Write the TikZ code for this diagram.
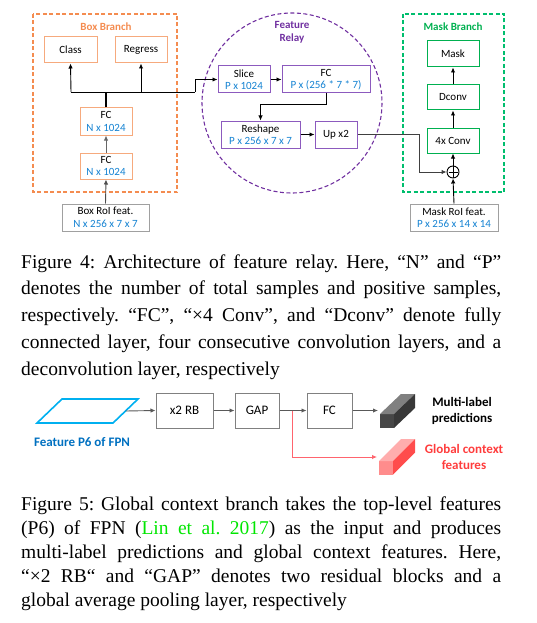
\documentclass[tikz,border=0pt]{standalone}
\usepackage{fontspec}
\setmainfont{Liberation Serif}
\newfontfamily\diag{Carlito}
\usetikzlibrary{arrows.meta,calc}
\frenchspacing
\definecolor{orgtxt}{RGB}{244,140,80}
\definecolor{orgbox}{RGB}{246,170,125}
\definecolor{dimblue}{RGB}{20,130,210}
\definecolor{purp}{RGB}{112,48,160}
\definecolor{purpbox}{RGB}{140,90,190}
\definecolor{grn}{RGB}{0,176,80}
\definecolor{grnframe}{RGB}{0,190,110}
\definecolor{roigray}{RGB}{160,160,160}
\definecolor{boxgray}{RGB}{128,128,128}
\definecolor{cyanp}{RGB}{0,176,240}
\definecolor{p6blue}{RGB}{0,112,192}
\definecolor{redtxt}{RGB}{255,60,60}
\definecolor{redline}{RGB}{255,100,110}
\definecolor{citegreen}{RGB}{0,230,0}
\tikzset{
  bx/.style={draw, line width=1pt, inner sep=0pt, align=center,
    font=\diag\fontsize{11}{12.5}\selectfont},
  obox/.style={bx, draw=orgbox},
  pbox/.style={bx, draw=purpbox},
  gbox/.style={bx, draw=grn},
  rbox/.style={bx, draw=roigray},
  bbox/.style={draw=boxgray, line width=1pt, inner sep=0pt, align=center,
    font=\diag\fontsize{13}{15}\selectfont},
  arr/.style={-{Latex[length=5pt,width=4.5pt]}, line width=0.9pt},
  frame/.style={line width=1.1pt, dash pattern=on 4pt off 2.5pt},
  lbl/.style={font=\diag\bfseries\fontsize{11}{13}\selectfont, inner sep=0pt},
  capnode/.style={anchor=base west, inner sep=0pt}
}
\begin{document}
\begin{tikzpicture}[x=1pt,y=-1pt]
\useasboundingbox (0,0) rectangle (536,623);
% ---------- Box branch ----------
\draw[frame, draw=orgtxt] (33,14) rectangle (177,192);
\node[lbl, text=orgtxt] (boxlbl) at (106,27) {Box Branch};
\node[obox, minimum width=53pt, minimum height=26pt] (class) at (70.5,50) {Class};
\node[obox, minimum width=52pt, minimum height=26pt] (regress) at (141,50) {Regress};
\node[obox, minimum width=52pt, minimum height=27pt] (fctwo) at (106,121.5) {FC\\\color{dimblue}N x 1024};
\node[obox, minimum width=52pt, minimum height=26pt] (fcone) at (106,166) {FC\\\color{dimblue}N x 1024};
\node[rbox, minimum width=87pt, minimum height=27pt] (boxroi) at (105.5,217.5) {Box RoI feat.\\\color{dimblue}N x 256 x 7 x 7};
\coordinate (jn) at (106,92);
\coordinate (jl) at (71,92);
\coordinate (jr) at (141,92);
\coordinate (jx) at (195,92);
\draw[arr, draw=black!70] (boxroi.north) -- (fcone.south);
\draw[arr, draw=black!60] (fcone.north) -- (fctwo.south);
\draw[line width=2pt] (fctwo.north) -- (jn);
\draw[line width=0.9pt] (jl) -- (jx);
\draw[arr] (jl) -- (class.south);
\draw[arr] (jr) -- (regress.south);
% ---------- Feature relay ----------
\draw[frame, draw=purp] (292,103) circle (90);
\node[lbl, text=purp] (rl1) at (292,25) {Feature};
\node[lbl, text=purp] (rl2) at (292,39) {Relay};
\node[pbox, minimum width=52pt, minimum height=27pt] (slice) at (244,79.5) {Slice\\\color{dimblue}P x 1024};
\node[pbox, minimum width=88pt, minimum height=27pt] (fcr) at (326,79.5) {FC\\\color{dimblue}P x (256 * 7 * 7)};
\node[pbox, minimum width=79pt, minimum height=27pt] (reshape) at (260.5,134.5) {Reshape\\\color{dimblue}P x 256 x 7 x 7};
\node[pbox, minimum width=42pt, minimum height=27pt] (up) at (336,134.5) {Up x2};
\draw[arr] (jx) -- (195,79.5) -- (slice.west);
\draw[arr] (slice.east) -- (fcr.west);
\draw[arr] (fcr.south) -- (326,104) -- (260.5,104) -- (reshape.north);
\draw[arr] (reshape.east) -- (up.west);
% ---------- Mask branch ----------
\draw[frame, draw=grnframe] (403,14) rectangle (504,192);
\node[lbl, text=grn] (masklbl) at (453,27) {Mask Branch};
\node[gbox, minimum width=52pt, minimum height=26pt] (mask) at (453,54) {Mask};
\node[gbox, minimum width=52pt, minimum height=25pt] (dconv) at (453,97.5) {Dconv};
\node[gbox, minimum width=52pt, minimum height=25pt] (conv) at (453,140.5) {4x Conv};
\node[rbox, minimum width=88pt, minimum height=27pt] (maskroi) at (454,217.5) {Mask RoI feat.\\\color{dimblue}P x 256 x 14 x 14};
\node[circle, draw, line width=0.9pt, minimum size=12pt, inner sep=0pt,
  path picture={\draw[line width=0.9pt] ($(path picture bounding box.north)+(0,-1.5)$) -- ($(path picture bounding box.south)+(0,1.5)$)
    ($(path picture bounding box.west)+(1.5,0)$) -- ($(path picture bounding box.east)+(-1.5,0)$);}] (oplus) at (453,172) {};
\draw[arr, draw=black!75] (up.east) -- (419,134.5) -- (419,172) -- (oplus.west);
\draw[arr] (maskroi.north) -- (oplus.south);
\draw[arr] (oplus.north) -- (conv.south);
\draw[arr] (conv.north) -- (dconv.south);
\draw[arr] (dconv.north) -- (mask.south);
% ---------- Caption 4 ----------
\node[capnode] (cap4) at (21,268) {\parbox[t]{480pt}{\fontsize{19.5}{26.75}\selectfont\frenchspacing\tolerance=9999\hbadness=10000
Figure 4: Architecture of feature relay. Here, “N” and “P”\linebreak
denotes the number of total samples and positive samples,\linebreak
respectively. “FC”, “×4 Conv”, and “Dconv” denote fully\linebreak
connected layer, four consecutive convolution layers, and a\linebreak
deconvolution layer, respectively}};
% ---------- Global context branch ----------
\draw[draw=cyanp, line width=1.6pt] (37,423) -- (113,423) -- (138,399) -- (62,399) -- cycle;
\coordinate (p6) at (125.5,411);
\node[font=\diag\bfseries\fontsize{13}{15}\selectfont, text=p6blue, inner sep=0pt] (p6lbl) at (82,442) {Feature P6 of FPN};
\node[bbox, minimum width=57pt, minimum height=35pt] (rb) at (184.5,410.5) {x2 RB};
\node[bbox, minimum width=44pt, minimum height=35pt] (gap) at (257,410.5) {GAP};
\node[bbox, minimum width=45pt, minimum height=35pt] (fcb) at (329.5,410.5) {FC};
\coordinate (cubeA) at (378,410.5);
\coordinate (split) at (292,410.5);
\coordinate (cubeB) at (377,457);
\draw[arr, draw=black!65] (p6) -- (rb.west);
\draw[arr, draw=black!65] (rb.east) -- (gap.west);
\draw[arr, draw=black!65] (gap.east) -- (fcb.west);
\draw[arr, draw=black!65] (fcb.east) -- (cubeA);
\draw[arr, draw=redline] (split) -- (292,457) -- (cubeB);
% dark cuboid
\fill[black!72] (380,414) rectangle (394,428);
\fill[black!50] (380,414) -- (394,414) -- (415,394) -- (401,394) -- cycle;
\fill[black!78] (394,414) -- (394,428) -- (415,408) -- (415,394) -- cycle;
% red cuboid
\fill[red!45] (379,461) rectangle (393,474.5);
\fill[red!32] (379,461) -- (393,461) -- (415,439) -- (401,439) -- cycle;
\fill[red!70] (393,461) -- (393,474.5) -- (415,452.5) -- (415,439) -- cycle;
\node[font=\diag\bfseries\fontsize{13}{16}\selectfont, align=center, inner sep=0pt] (mlp) at (462,411) {Multi-label\\predictions};
\node[font=\diag\bfseries\fontsize{13}{16}\selectfont, align=center, text=redtxt, inner sep=0pt] (gcf) at (464,457) {Global context\\features};
% ---------- Caption 5 ----------
\node[capnode] (cap5) at (21,510) {\parbox[t]{480pt}{\fontsize{19.5}{24}\selectfont\frenchspacing\tolerance=9999\hbadness=10000
Figure 5: Global context branch takes the top-level features\linebreak
(P6) of FPN (\textcolor{citegreen}{Lin et al. 2017}) as the input and produces\linebreak
multi-label predictions and global context features. Here,\linebreak
“×2 RB“ and “GAP” denotes two residual blocks and a\linebreak
global average pooling layer, respectively}};
\end{tikzpicture}
\end{document}
